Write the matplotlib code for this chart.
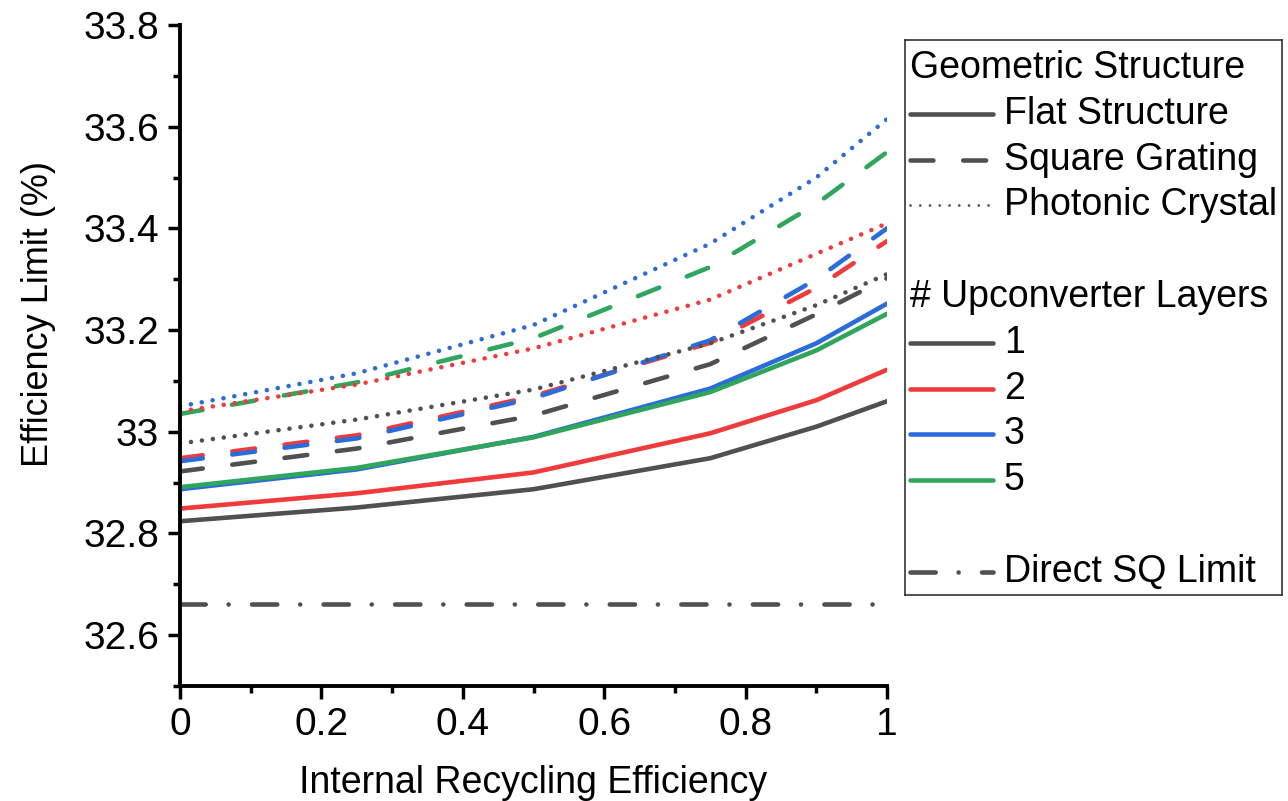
import numpy as np
import matplotlib.pyplot as plt
from matplotlib.ticker import MultipleLocator

plt.rcParams.update({'font.family': ['Liberation Sans', 'DejaVu Sans'], 'font.size': 22})

# internal recycling efficiency values where the curves were computed
x_eff = [0, 0.25, 0.5, 0.75, 0.9, 1.0]

# flat structure (solid)
flat_1 = [32.824, 32.851, 32.887, 32.948, 33.010, 33.060]
flat_2 = [32.849, 32.879, 32.920, 32.997, 33.062, 33.122]
flat_3 = [32.887, 32.926, 32.990, 33.085, 33.174, 33.252]
flat_5 = [32.891, 32.929, 32.989, 33.078, 33.160, 33.232]

# square grating (dashed)
grating_1 = [32.922, 32.967, 33.032, 33.133, 33.231, 33.302]
grating_2 = [32.948, 32.993, 33.070, 33.175, 33.283, 33.375]
grating_3 = [32.942, 32.987, 33.066, 33.180, 33.300, 33.400]
grating_5 = [33.035, 33.097, 33.184, 33.324, 33.448, 33.550]

# photonic crystal (dotted)
crystal_1 = [32.977, 33.024, 33.083, 33.174, 33.249, 33.310]
crystal_2 = [33.040, 33.093, 33.164, 33.260, 33.350, 33.410]
crystal_3 = [33.050, 33.115, 33.210, 33.370, 33.500, 33.615]

sq_limit = 32.662

layer_names = ["1", "2", "3", "5"]
colors = {"1": "#505050", "2": "#ef3b3b", "3": "#2b6cdb", "5": "#2fa65c"}

solid = '-'
dashed = (0, (5, 6.5))
dotted = (0, (0.01, 2.4))
dashdot = (0, (5.5, 5, 0.01, 5.1))

lw = 3.3

fig = plt.figure(figsize=(12.88, 8.01), dpi=100)
ax = fig.add_axes([180/1288, 1-686/801, (887-180)/1288, (686-25)/801])

def draw(y, name, ls):
    ax.plot(x_eff, y, color=colors[name], linestyle=ls, lw=lw,
            solid_capstyle='round', dash_capstyle='round')

for y, n in zip([flat_1, flat_2, flat_3, flat_5], layer_names):
    draw(y, n, solid)
for y, n in zip([grating_1, grating_2, grating_3, grating_5], layer_names):
    draw(y, n, dashed)
for y, n in zip([crystal_1, crystal_2, crystal_3], layer_names[:3]):
    draw(y, n, dotted)

ax.axhline(sq_limit, color="#505050", linestyle=dashdot, lw=lw, dash_capstyle='round')

ax.set_xlim(0, 1)
ax.set_ylim(32.5, 33.8)
ax.xaxis.set_major_locator(MultipleLocator(0.2))
ax.xaxis.set_minor_locator(MultipleLocator(0.1))
ax.yaxis.set_major_locator(MultipleLocator(0.2))
ax.yaxis.set_minor_locator(MultipleLocator(0.1))
ax.xaxis.set_major_formatter(plt.FuncFormatter(lambda v, p: "%g" % round(v, 2)))
ax.yaxis.set_major_formatter(plt.FuncFormatter(lambda v, p: "%g" % round(v, 2)))
ax.tick_params(which='major', direction='out', length=9, width=2.5, labelsize=28, pad=6)
ax.tick_params(which='minor', direction='out', length=5, width=2.5)
for s in ['top', 'right']:
    ax.spines[s].set_visible(False)
for s in ['left', 'bottom']:
    ax.spines[s].set_linewidth(2.8)

ax.set_xlabel("Internal Recycling Efficiency", fontsize=27, labelpad=16)
ax.set_ylabel("Efficiency Limit (%)", fontsize=26)
ax.yaxis.set_label_coords(-0.175, 0.563)

# legend box, laid out in pixel-like units
lax = fig.add_axes([905/1288, 1-595/801, (1282-905)/1288, (595-40)/801])
lax.set_xlim(905, 1282)
lax.set_ylim(595, 40)
lax.set_xticks([])
lax.set_yticks([])
for s in lax.spines.values():
    s.set_linewidth(1.2)
    s.set_color("#333333")

rows = [
    ("Geometric Structure", None, None),
    ("Flat Structure", "#505050", solid),
    ("Square Grating", "#505050", dashed),
    ("Photonic Crystal", "#505050", (0, (0.01, 3.5))),
    None,
    ("# Upconverter Layers", None, None),
    ("1", colors["1"], solid),
    ("2", colors["2"], solid),
    ("3", colors["3"], solid),
    ("5", colors["5"], solid),
    None,
    ("Direct SQ Limit", "#505050", dashdot),
]
row_h = 45.8
for i, row in enumerate(rows):
    if row is None:
        continue
    label, c, ls = row
    yy = 68 + i * row_h
    if c is None:
        lax.text(910, yy, label, fontsize=27, va='center', ha='left')
    else:
        w = lw if label != "Photonic Crystal" else 2
        lax.plot([910, 993], [yy, yy], color=c, linestyle=ls, lw=w,
                 solid_capstyle='round', dash_capstyle='round')
        lax.text(1004, yy, label, fontsize=27, va='center', ha='left')

fig.savefig("out.png", dpi=100)
